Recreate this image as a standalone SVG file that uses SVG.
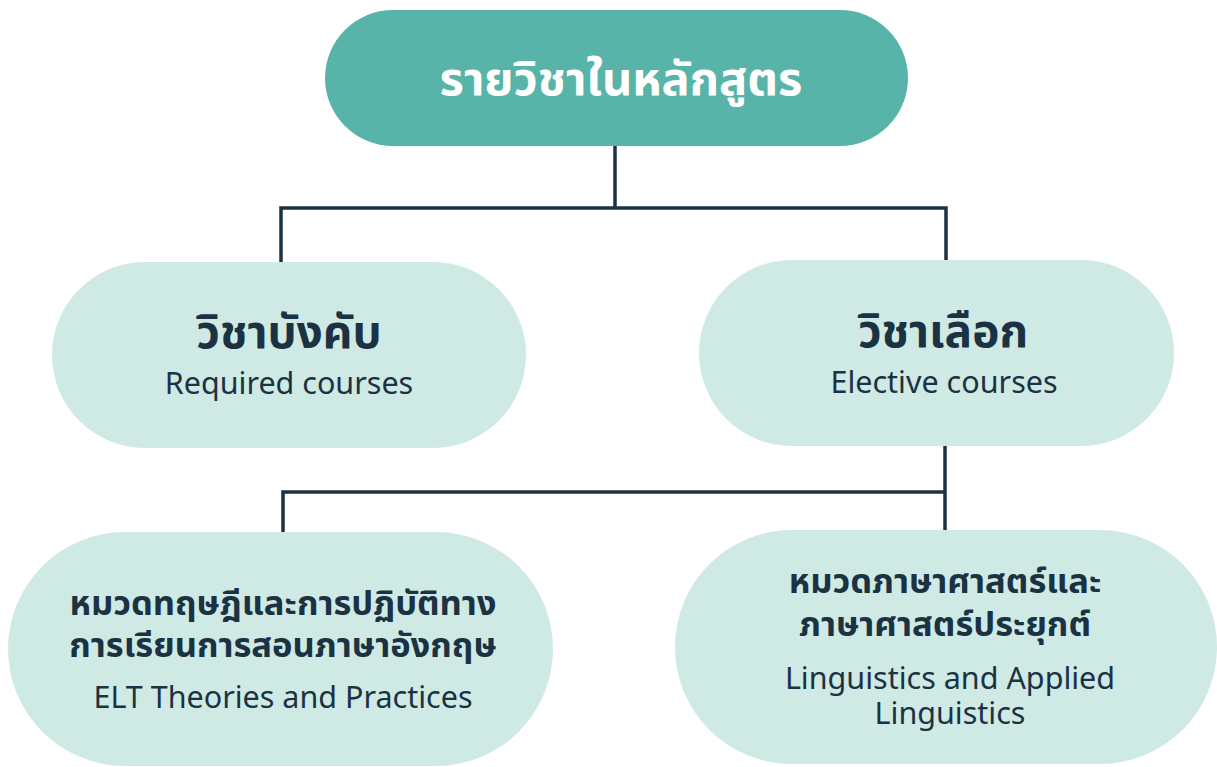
<svg xmlns="http://www.w3.org/2000/svg" width="1217" height="767" viewBox="0 0 1217 767">
<style>
.top{fill:#58b4a9}
.box{fill:#cfe9e5}
.line{fill:none;stroke:#1b3243;stroke-width:3.5}
text{font-family:"Noto Sans","Noto Sans Thai","Liberation Sans",sans-serif;text-anchor:middle;fill:#1b3243}
.t1{font-size:47px;font-weight:bold;fill:#ffffff}
.t2{font-size:46px;font-weight:bold}
.t3{font-size:34.5px;font-weight:bold}
.sub{font-size:30.5px}
</style>
<rect width="1217" height="767" fill="#ffffff"/>
<g id="connectors">
<path class="line" d="M615 146 V208 M281 262 V208 H946 V260"/>
<path class="line" d="M945 446 V531 M283 532 V492 H945"/>
</g>
<g id="root">
<rect class="top" x="325" y="10" width="583" height="136" rx="68"/>
<text class="t1" x="621" y="95">รายวิชาในหลักสูตร</text>
</g>
<g id="required">
<rect class="box" x="52" y="262" width="474" height="186" rx="93"/>
<text class="t2" x="289" y="348">วิชาบังคับ</text>
<text class="sub" x="289" y="394">Required courses</text>
</g>
<g id="elective">
<rect class="box" x="699" y="260" width="475" height="186" rx="93"/>
<text class="t2" x="943" y="347">วิชาเลือก</text>
<text class="sub" x="944" y="393">Elective courses</text>
</g>
<g id="elt">
<rect class="box" x="8" y="532" width="545" height="234" rx="117"/>
<text class="t3" x="283" y="615">หมวดทฤษฎีและการปฏิบัติทาง</text>
<text class="t3" x="283" y="657">การเรียนการสอนภาษาอังกฤษ</text>
<text class="sub" x="283" y="708">ELT Theories and Practices</text>
</g>
<g id="linguistics">
<rect class="box" x="675" y="530" width="542" height="234" rx="117"/>
<text class="t3" x="945" y="593">หมวดภาษาศาสตร์และ</text>
<text class="t3" x="945" y="636">ภาษาศาสตร์ประยุกต์</text>
<text class="sub" x="950" y="689">Linguistics and Applied</text>
<text class="sub" x="950" y="724">Linguistics</text>
</g>
</svg>
